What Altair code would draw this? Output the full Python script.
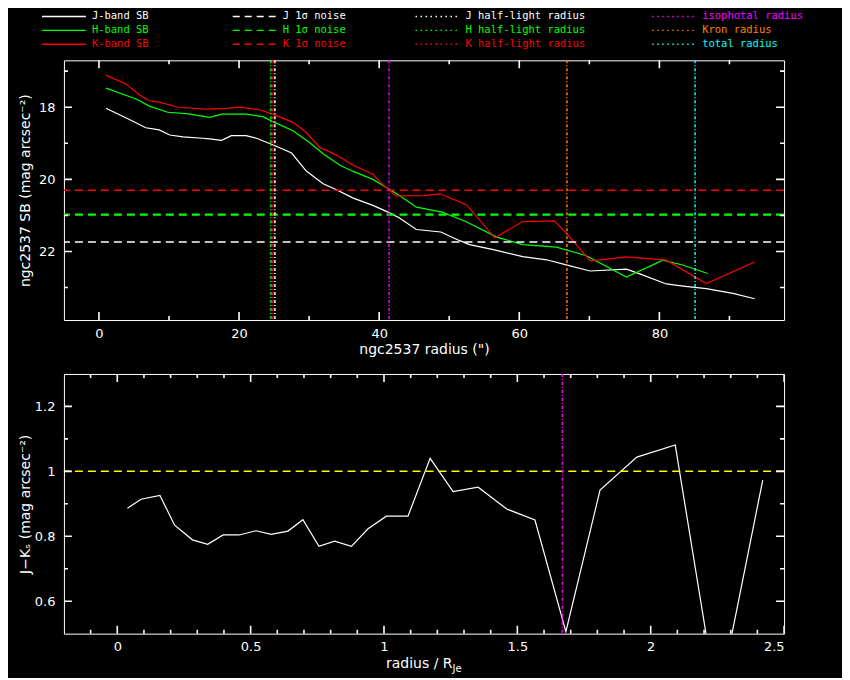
import altair as alt
import pandas as pd

# ---------------- data ----------------
J_R = [1.0, 3.9, 6.7, 8.6, 10.1, 12.0, 14.8, 15.8, 17.5, 18.9, 21.0, 22.5, 24.8, 27.5, 29.6,
       32.0, 33.9, 36.3, 39.1, 41.5, 42.9, 45.3, 48.8, 51.5, 52.9, 56.3, 60.5, 63.9, 66.7,
       70.1, 75.3, 77.2, 81.0, 83.4, 86.7, 90.5, 93.6]
J_SB = [18.03, 18.30, 18.57, 18.63, 18.77, 18.82, 18.86, 18.88, 18.92, 18.79, 18.79, 18.86,
        19.04, 19.27, 19.77, 20.12, 20.29, 20.52, 20.72, 20.93, 21.07, 21.39, 21.46, 21.70,
        21.81, 21.95, 22.14, 22.23, 22.37, 22.54, 22.49, 22.62, 22.90, 22.96, 23.03, 23.16, 23.31]

H_R = [1.0, 5.3, 7.2, 9.8, 12.5, 15.8, 17.5, 21.0, 23.4, 24.8, 27.7, 30.0, 32.0, 34.4, 36.3,
       39.1, 40.8, 42.9, 45.3, 49.0, 52.5, 56.8, 60.5, 65.3, 69.5, 75.3, 80.5, 83.4, 86.9]
H_SB = [17.47, 17.77, 17.97, 18.14, 18.18, 18.28, 18.19, 18.19, 18.26, 18.40, 18.65, 18.97,
        19.29, 19.61, 19.78, 20.00, 20.20, 20.45, 20.77, 20.91, 21.18, 21.60, 21.81, 21.88,
        22.11, 22.71, 22.24, 22.38, 22.61]

K_R = [1.0, 3.9, 5.8, 7.2, 8.6, 11.3, 15.3, 18.2, 20.1, 22.9, 24.8, 27.7, 29.6, 31.5, 33.4,
       34.8, 36.3, 39.1, 40.1, 41.5, 42.4, 46.3, 48.7, 52.5, 56.5, 60.5, 65.0, 66.7, 70.1,
       71.5, 75.3, 81.0, 86.7, 93.6]
K_SB = [17.11, 17.36, 17.66, 17.82, 17.86, 18.00, 18.05, 18.03, 18.00, 18.07, 18.19, 18.42,
        18.70, 19.11, 19.28, 19.43, 19.61, 19.86, 20.07, 20.31, 20.46, 20.45, 20.40, 20.71,
        21.62, 21.17, 21.15, 21.49, 22.25, 22.23, 22.15, 22.24, 22.89, 22.29]

BANDS = ["J", "H", "K"]
NOISE_SB = [21.74, 20.98, 20.30]          # 1-sigma noise level per band
HALF_R = [25.11, 24.54, 24.83]            # half-light radius per band
RADII_NAMES = ["isophotal", "Kron", "total"]
RADII_R = [41.4, 66.8, 85.1]

JK_R = [0.038, 0.089, 0.16, 0.215, 0.282, 0.339, 0.397, 0.457, 0.52, 0.577, 0.64, 0.696,
        0.756, 0.815, 0.878, 0.94, 1.009, 1.09, 1.173, 1.259, 1.353, 1.46, 1.566, 1.682,
        1.81, 1.948, 2.092, 2.251, 2.42]
JK = [0.886, 0.914, 0.926, 0.834, 0.789, 0.775, 0.804, 0.804, 0.817, 0.806, 0.816, 0.851,
      0.769, 0.785, 0.769, 0.823, 0.862, 0.862, 1.04, 0.938, 0.951, 0.884, 0.850, 0.506,
      0.942, 1.044, 1.081, 0.28, 0.973]
ISO_RNORM = 1.669
JK_REF = 1.0

# axis ranges and tick values
TOP_XDOM = [-5, 97.8]
TOP_YDOM = [16.7, 23.9]
BOT_XDOM = [-0.2, 2.5]
BOT_YDOM = [0.5, 1.3]
T_XMAJ = [0, 20, 40, 60, 80]
T_XMIN = [10, 30, 50, 70, 90]
T_YMAJ = [18, 20, 22]
T_YMIN = [17, 19, 21, 23]
B_XMAJ = [0, 0.5, 1, 1.5, 2, 2.5]
B_XMIN = [-0.1, 0.1, 0.2, 0.3, 0.4, 0.6, 0.7, 0.8, 0.9, 1.1, 1.2, 1.3, 1.4, 1.6, 1.7, 1.8,
          1.9, 2.1, 2.2, 2.3, 2.4]
B_YMAJ = [0.6, 0.8, 1.0, 1.2]
B_YMIN = [0.7, 0.9, 1.1]

LEG_LABELS = [["J-band SB", "H-band SB", "K-band SB"],
              ["J 1σ noise", "H 1σ noise", "K 1σ noise"],
              ["J half-light radius", "H half-light radius", "K half-light radius"],
              ["isophotal radius", "Kron radius", "total radius"]]

# ---------------- styles / layout ----------------
WHITE, GREEN, RED = "#ffffff", "#00ff00", "#ff0000"
MAGENTA, ORANGE, CYAN, YELLOW = "#ff00ff", "#ff8000", "#00ffff", "#ffff00"
BAND_COLORS = [WHITE, GREEN, RED]
RADII_COLORS = [MAGENTA, ORANGE, CYAN]
NOISE_WIDTHS = [1.5, 2.2, 1.5]
LEG_COLORS = [BAND_COLORS, BAND_COLORS, BAND_COLORS, RADII_COLORS]
LEG_DASH = [[1, 0], [7, 5], [1.5, 3.5], [1.5, 3.5]]
LEG_COL_X = [-22, 169, 352, 589]
LEG_ROW_Y = [-44, -30, -16]
SAMPLE_LEN, TEXT_GAP = 44, 6
DASH = [8, 5]
DOTDASH = [3, 2, 1, 2]
FONT = "DejaVu Sans"
LEG_FONT = "DejaVu Sans Mono"
W, H = 721, 260
MAJ_LEN, MIN_LEN = 8, 4
TICK_W = 1.6
GUIDE_W = 1.5


def frame_ticks(xf, xscale, xdom, yf, yscale, ydom, xmaj, xmin, ymaj, ymin, yrev=False):
    """Inward-pointing ticks on all four sides (ticks centred on the frame, clipped)."""
    layers = []
    y_bottom, y_top = (ydom[1], ydom[0]) if yrev else (ydom[0], ydom[1])
    for vals, L in [(xmaj, MAJ_LEN), (xmin, MIN_LEN)]:
        base = alt.Chart(pd.DataFrame({xf: vals})).mark_tick(
            orient="vertical", size=2 * L, thickness=TICK_W, color=WHITE, clip=True, opacity=1)
        xe = alt.X(f"{xf}:Q", scale=xscale)
        for yv in (y_bottom, y_top):
            layers.append(base.encode(x=xe, y=alt.Y(datum=yv, scale=yscale)))
    for vals, L in [(ymaj, MAJ_LEN), (ymin, MIN_LEN)]:
        base = alt.Chart(pd.DataFrame({yf: vals})).mark_tick(
            orient="horizontal", size=2 * L, thickness=TICK_W, color=WHITE, clip=True, opacity=1)
        ye = alt.Y(f"{yf}:Q", scale=yscale)
        for xv in (xdom[0], xdom[1]):
            layers.append(base.encode(y=ye, x=alt.X(datum=xv, scale=xscale)))
    return layers


axis_common = dict(ticks=False, tickSize=0, domain=False, grid=False, labelColor=WHITE,
                   labelFont=FONT, labelFontSize=13, titleColor=WHITE, titleFont=FONT,
                   titleFontSize=14, titleFontWeight="normal", format="~g")

# ---------------- top panel ----------------
xs_top = alt.Scale(domain=TOP_XDOM, nice=False, zero=False)
ys_top = alt.Scale(domain=TOP_YDOM, nice=False, zero=False, reverse=True)

sb = pd.concat([
    pd.DataFrame({"r": J_R, "sb": J_SB, "band": "J"}),
    pd.DataFrame({"r": H_R, "sb": H_SB, "band": "H"}),
    pd.DataFrame({"r": K_R, "sb": K_SB, "band": "K"}),
])
band_color = alt.Color("band:N", scale=alt.Scale(domain=BANDS, range=BAND_COLORS), legend=None)

lines = alt.Chart(sb).mark_line(strokeWidth=1.2).encode(
    x=alt.X("r:Q", scale=xs_top,
            axis=alt.Axis(values=T_XMAJ, labelPadding=7, title='ngc2537 radius (")',
                          titleY=30, titleBaseline="middle", **axis_common)),
    y=alt.Y("sb:Q", scale=ys_top,
            axis=alt.Axis(values=T_YMAJ, labelPadding=9, title="ngc2537 SB (mag arcsec⁻²)",
                          titleX=-38, titleBaseline="middle", **axis_common)),
    color=band_color,
)

noise_df = pd.DataFrame({"sb": NOISE_SB, "band": BANDS})
noise_df["w"] = NOISE_WIDTHS
noise = alt.Chart(noise_df).mark_rule(strokeDash=DASH).encode(
    y=alt.Y("sb:Q", scale=ys_top), color=band_color,
    strokeWidth=alt.StrokeWidth("w:Q", scale=None))

half = alt.Chart(pd.DataFrame({"r": HALF_R, "band": BANDS})).mark_rule(
    strokeDash=DOTDASH, strokeWidth=GUIDE_W).encode(
    x=alt.X("r:Q", scale=xs_top), color=band_color)

radii_df = pd.DataFrame({"r": RADII_R, "name": RADII_NAMES})
radii_df["c"] = RADII_COLORS
radii = alt.Chart(radii_df).mark_rule(strokeDash=DOTDASH, strokeWidth=GUIDE_W).encode(
    x=alt.X("r:Q", scale=xs_top), color=alt.Color("c:N", scale=None))

# legend (drawn above the top panel)
leg_rows = []
for c, (labs, cols) in enumerate(zip(LEG_LABELS, LEG_COLORS)):
    for r, (lab, col) in enumerate(zip(labs, cols)):
        leg_rows.append({"label": lab, "color": col, "style": c,
                         "lx": LEG_COL_X[c], "lx2": LEG_COL_X[c] + SAMPLE_LEN,
                         "tx": LEG_COL_X[c] + SAMPLE_LEN + TEXT_GAP, "ly": LEG_ROW_Y[r]})
leg = pd.DataFrame(leg_rows)

leg_text = alt.Chart(leg).mark_text(align="left", baseline="middle", font=LEG_FONT,
                                    fontSize=10.5).encode(
    x=alt.X("tx:Q", scale=None), y=alt.Y("ly:Q", scale=None),
    text="label:N", color=alt.Color("color:N", scale=None))

leg_lines = []
for c in range(4):
    leg_lines.append(
        alt.Chart(leg[leg["style"] == c]).mark_rule(strokeWidth=1.5,
                                                     strokeDash=LEG_DASH[c]).encode(
            x=alt.X("lx:Q", scale=None), x2="lx2:Q", y=alt.Y("ly:Q", scale=None),
            color=alt.Color("color:N", scale=None)))

top = alt.layer(
    lines, noise, half, radii,
    *frame_ticks("r", xs_top, TOP_XDOM, "sb", ys_top, TOP_YDOM,
                 T_XMAJ, T_XMIN, T_YMAJ, T_YMIN, yrev=True),
    *leg_lines, leg_text,
).properties(width=W, height=H)

# ---------------- bottom panel ----------------
xs_bot = alt.Scale(domain=BOT_XDOM, nice=False, zero=False)
ys_bot = alt.Scale(domain=BOT_YDOM, nice=False, zero=False)

jk_line = alt.Chart(pd.DataFrame({"rn": JK_R, "jk": JK})).mark_line(
    color=WHITE, strokeWidth=1.2, clip=True).encode(
    x=alt.X("rn:Q", scale=xs_bot,
            axis=alt.Axis(values=B_XMAJ, labelPadding=7, title="radius / R",
                          titleX=322, titleAlign="left", titleY=30, titleBaseline="middle",
                          **axis_common)),
    y=alt.Y("jk:Q", scale=ys_bot,
            axis=alt.Axis(values=B_YMAJ, labelPadding=9, title="J−Kₛ (mag arcsec⁻²)",
                          titleX=-38, titleBaseline="middle", **axis_common)),
)

ref_line = alt.Chart(pd.DataFrame({"jk": [JK_REF]})).mark_rule(
    color=YELLOW, strokeDash=DASH, strokeWidth=GUIDE_W).encode(
    y=alt.Y("jk:Q", scale=ys_bot))

iso_line = alt.Chart(pd.DataFrame({"rn": [ISO_RNORM]})).mark_rule(
    color=MAGENTA, strokeDash=DOTDASH, strokeWidth=GUIDE_W).encode(
    x=alt.X("rn:Q", scale=xs_bot))

sub = alt.Chart(pd.DataFrame({"t": ["Je"]})).mark_text(
    align="left", baseline="middle", font=FONT, fontSize=10, color=WHITE).encode(
    text="t:N", x=alt.value(389), y=alt.value(H + 35))

bottom = alt.layer(
    jk_line, ref_line, iso_line,
    *frame_ticks("rn", xs_bot, BOT_XDOM, "jk", ys_bot, BOT_YDOM,
                 B_XMAJ, B_XMIN, B_YMAJ, B_YMIN),
    sub,
).properties(width=W, height=H)

chart = alt.vconcat(top, bottom, spacing=54, bounds="flush").properties(
    background="black",
    padding={"left": 10, "top": 2, "right": 38, "bottom": 3},
).configure_view(stroke=WHITE, strokeWidth=1).configure_axis(labelFont=FONT, titleFont=FONT)

chart.save("out.html", embed_options={"renderer": "svg", "actions": False})
